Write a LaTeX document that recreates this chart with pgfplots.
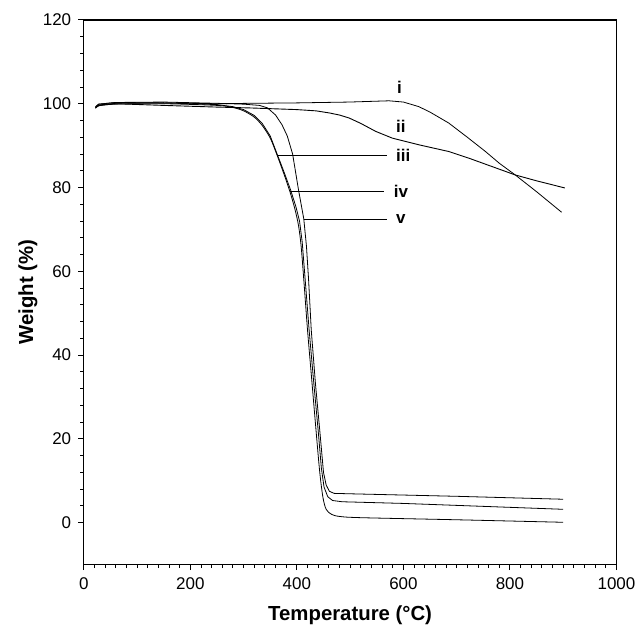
\documentclass[border=0pt]{standalone}
\usepackage{fontspec}
\setmainfont{Liberation Sans}
\usepackage{pgfplots}
\pgfplotsset{compat=1.18}

\begin{document}
\begin{tikzpicture}
\begin{axis}[
    scale only axis,
    width=267pt, height=273pt,
    xmin=0, xmax=1000, ymin=-10, ymax=120,
    xtick={0,200,...,1000}, ytick={0,20,...,120},
    minor x tick num=9, minor y tick num=4,
    tick align=outside,
    major tick length=2.8pt, minor tick length=1.8pt,
    axis line style={line width=0.6pt},
    major tick style={black, line width=0.5pt},
    minor tick style={black, line width=0.45pt},
    xtick pos=bottom, ytick pos=left,
    /pgf/number format/assume math mode=true,
    /pgf/number format/1000 sep={},
    tick label style={font=\fontsize{8.5}{10}\selectfont},
    every axis x label/.style={at={(axis description cs:0.5,0)}, anchor=center, yshift=-25.5pt},
    every axis y label/.style={at={(axis description cs:-0.105,0.5)}, anchor=center, rotate=90},
    label style={font=\fontsize{10.2}{12}\selectfont\bfseries},
    xlabel={Temperature (°C)},
    ylabel={Weight (\%)},
    cycle list={{black, line width=0.45pt, no markers, smooth, tension=0.4}},
]
% i
\addplot coordinates {(22,99.2)(28,99.9)(60,100.3)(150,100.2)(250,100.0)(311,100.1)(400,100.2)(498,100.4)(573,100.7)(600,100.4)(616,99.8)(629,99.3)(650,98.0)(685,95.4)(720,92.0)(754,88.6)(780,85.8)(810,83.0)(850,79.0)(897,74.1)};
% ii
\addplot coordinates {(22,99.0)(28,99.6)(60,100.0)(150,99.6)(250,99.2)(311,99.0)(400,98.6)(436,98.3)(461,97.8)(480,97.3)(498,96.6)(520,95.3)(548,93.4)(579,91.8)(629,90.2)(685,88.6)(723,87.0)(810,83.0)(850,81.6)(903,79.9)};
% iii
\addplot coordinates {(22,99.1)(28,99.7)(60,100.1)(150,100.2)(250,99.8)(280,99.3)(300,98.6)(320,97.2)(335,95.3)(350,92.3)(362,88.3)(375,84.0)(388,79.5)(398,75.5)(405,72.0)(410,67.0)(415,59.0)(423,46.0)(432,33.0)(440,22.0)(446,13.0)(451,8.5)(458,6.2)(467,5.3)(485,5.0)(600,4.6)(750,3.9)(900,3.2)};
% iv
\addplot coordinates {(22,98.9)(28,99.5)(60,99.9)(150,100.0)(250,99.6)(280,99.1)(300,98.3)(320,96.8)(335,94.8)(350,91.8)(362,88.0)(375,83.5)(387,79.0)(396,75.0)(403,71.0)(408,66.0)(413,58.0)(420,46.0)(428,34.0)(436,22.0)(443,12.0)(449,6.0)(455,3.2)(465,2.0)(480,1.5)(520,1.2)(700,0.7)(900,0.1)};
% v
\addplot coordinates {(22,99.3)(28,99.9)(60,100.3)(150,100.4)(250,100.1)(300,99.9)(330,99.6)(345,99.0)(360,97.3)(372,95.0)(382,92.3)(392,88.0)(403,79.5)(413,72.5)(418,66.0)(422,58.0)(427,46.0)(435,33.0)(443,22.0)(450,12.0)(455,9.0)(461,7.5)(470,7.0)(500,6.9)(700,6.3)(900,5.6)};
% leader lines
\addplot[black, line width=0.45pt] coordinates {(363,87.7)(570,87.7)};
\addplot[black, line width=0.45pt] coordinates {(387,79.1)(564,79.1)};
\addplot[black, line width=0.45pt] coordinates {(414,72.5)(570,72.5)};
\node[anchor=west, font=\fontsize{8.5}{10}\selectfont\bfseries] at (axis cs:575,103.8) {i};
\node[anchor=west, font=\fontsize{8.5}{10}\selectfont\bfseries] at (axis cs:573,94.7) {ii};
\node[anchor=west, font=\fontsize{8.5}{10}\selectfont\bfseries] at (axis cs:573,87.7) {iii};
\node[anchor=west, font=\fontsize{8.5}{10}\selectfont\bfseries] at (axis cs:569,79.1) {iv};
\node[anchor=west, font=\fontsize{8.5}{10}\selectfont\bfseries] at (axis cs:573,72.5) {v};
\end{axis}
\path (current axis.south west) ++(-42pt,-31pt);
\path (current axis.north east) ++(12pt,10pt);
\end{tikzpicture}
\end{document}
